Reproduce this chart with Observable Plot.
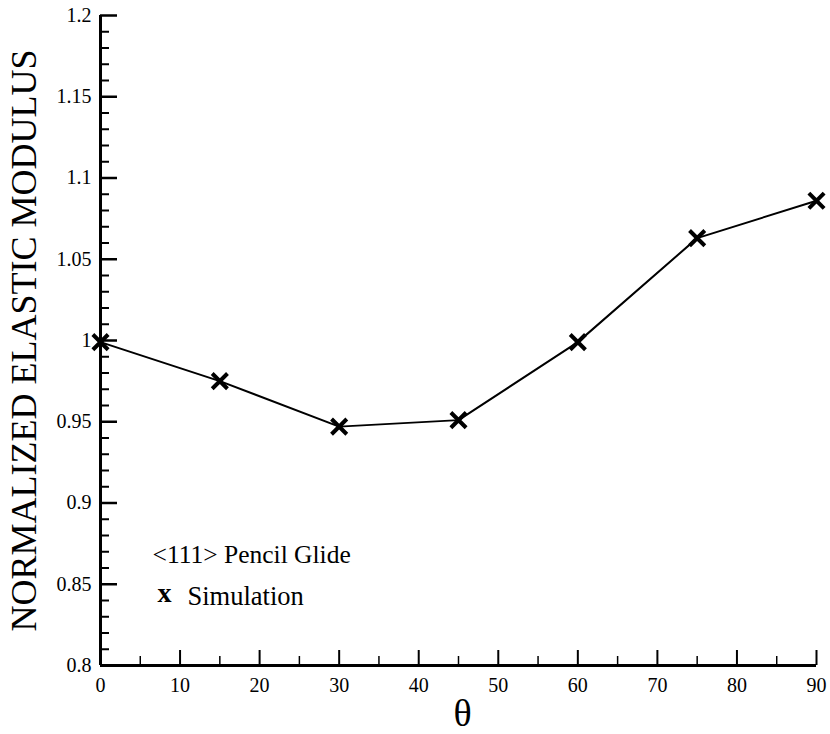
<!DOCTYPE html>
<html>
<head>
<meta charset="utf-8">
<script src="https://cdn.jsdelivr.net/npm/d3@7"></script>
<script src="https://cdn.jsdelivr.net/npm/@observablehq/plot@0.6"></script>
<style>
  html, body { margin: 0; padding: 0; background: #fff; }
  svg, svg text { font-family: "Liberation Serif", "DejaVu Serif", serif !important; }
</style>
</head>
<body>
<div id="chart"></div>
<script>
// Data
const theta = [0, 15, 30, 45, 60, 75, 90];
const modulus = [0.999, 0.975, 0.947, 0.951, 0.999, 1.063, 1.086];

// Tick labels
const xMajorTicks = [0, 10, 20, 30, 40, 50, 60, 70, 80, 90];
const xMinorTicks = [5, 15, 25, 35, 45, 55, 65, 75, 85];
const yMajorTicks = [0.8, 0.85, 0.9, 0.95, 1, 1.05, 1.1, 1.15, 1.2];
const yMinorTicks = [0.81, 0.82, 0.83, 0.84, 0.86, 0.87, 0.88, 0.89, 0.91, 0.92, 0.93, 0.94,
  0.96, 0.97, 0.98, 0.99, 1.01, 1.02, 1.03, 1.04, 1.06, 1.07, 1.08, 1.09,
  1.11, 1.12, 1.13, 1.14, 1.16, 1.17, 1.18, 1.19];

const yTitle = "NORMALIZED ELASTIC MODULUS";
const xTitle = "θ";
const legendLines = ["<111> Pencil Glide", "Simulation"];
const legendSymbol = "x";

const data = theta.map((t, i) => ({theta: t, value: modulus[i]}));
const fmt = d => String(+d.toFixed(2));
const serif = "Liberation Serif";

const W = 830, H = 734, ML = 100, MR = 14, MT = 15, MB = 69;
const frameW = W - ML - MR, frameH = H - MT - MB;

const chart = Plot.plot({
  width: W,
  height: H,
  marginLeft: ML,
  marginRight: MR,
  marginTop: MT,
  marginBottom: MB,
  style: {fontFamily: serif, color: "#000", background: "#fff"},
  x: {domain: [0, 90]},
  y: {domain: [0.8, 1.2]},
  marks: [
    // inward ticks
    Plot.tickY(yMinorTicks, {y: d => d, insetRight: frameW - 9, stroke: "#000", strokeWidth: 2}),
    Plot.tickY(yMajorTicks, {y: d => d, insetRight: frameW - 17, stroke: "#000", strokeWidth: 2.5}),
    Plot.tickX(xMinorTicks, {x: d => d, insetTop: frameH - 9, stroke: "#000", strokeWidth: 1.5}),
    Plot.tickX(xMajorTicks, {x: d => d, insetTop: frameH - 15, stroke: "#000", strokeWidth: 2}),
    // tick labels
    Plot.axisY({ticks: yMajorTicks, tickSize: 0, tickPadding: 9, tickFormat: fmt, fontSize: 20, fontFamily: serif, label: null}),
    Plot.axisX({ticks: xMajorTicks, tickSize: 0, tickPadding: 12, fontSize: 20, fontFamily: serif, label: null}),
    // axis lines
    Plot.ruleX([0], {stroke: "#000", strokeWidth: 3}),
    Plot.ruleY([0.8], {stroke: "#000", strokeWidth: 3}),
    // titles
    Plot.text([yTitle], {frameAnchor: "left", textAnchor: "middle", lineAnchor: "middle", rotate: -90, dx: -76, fontSize: 36, fontFamily: serif, fill: "#000"}),
    Plot.text([xTitle], {frameAnchor: "bottom", dx: 4, dy: 48, lineAnchor: "middle", fontSize: 38, fontFamily: serif, fill: "#000"}),
    // legend
    Plot.text([legendLines[0]], {frameAnchor: "bottom-left", dx: 52, dy: -111, textAnchor: "start", lineAnchor: "middle", fontSize: 25.5, fontFamily: serif, fill: "#000"}),
    Plot.text([legendSymbol], {frameAnchor: "bottom-left", dx: 64, dy: -72, textAnchor: "middle", lineAnchor: "middle", fontSize: 28, fontWeight: "bold", fontFamily: serif, fill: "#000"}),
    Plot.text([legendLines[1]], {frameAnchor: "bottom-left", dx: 87, dy: -69, textAnchor: "start", lineAnchor: "middle", fontSize: 26.5, fontFamily: serif, fill: "#000"}),
    // data
    Plot.line(data, {x: "theta", y: "value", stroke: "#000", strokeWidth: 2}),
    Plot.dot(data, {x: "theta", y: "value", symbol: "times", r: 7, stroke: "#000", strokeWidth: 4})
  ]
});
document.getElementById("chart").append(chart);
</script>
</body>
</html>
